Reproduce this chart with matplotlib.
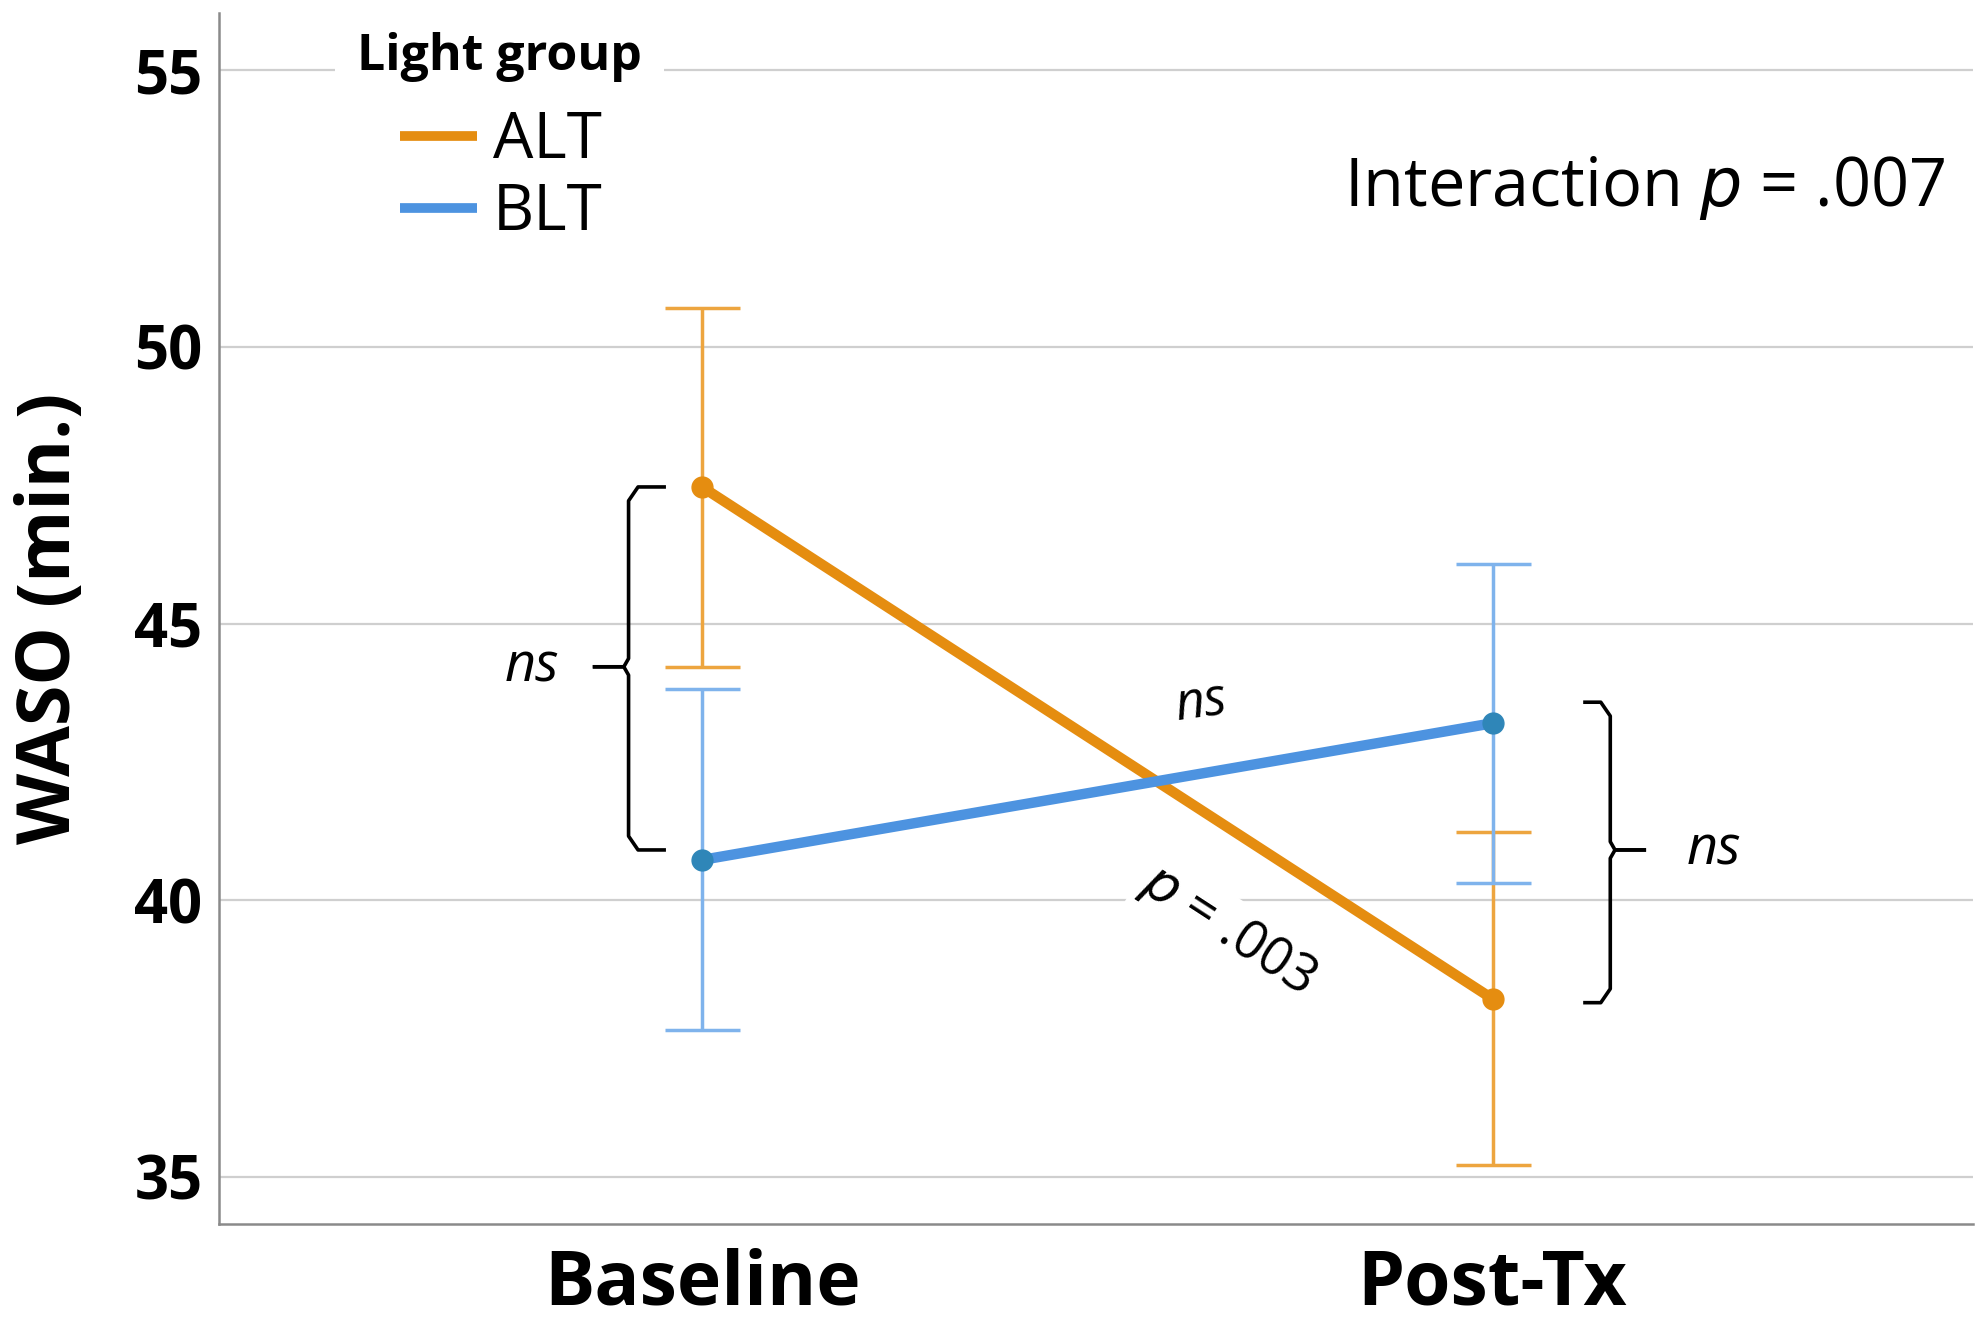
import numpy as np
import matplotlib
matplotlib.use("Agg")
import matplotlib.pyplot as plt

plt.rcParams['font.family'] = ['Open Sans', 'DejaVu Sans']

# values
timepoints = ["Baseline", "Post-Tx"]
groups = ["ALT", "BLT"]
alt_mean = [47.47, 38.22]
alt_upper = [50.71, 41.23]
alt_lower = [44.22, 35.21]
blt_mean = [40.73, 43.20]
blt_upper = [43.81, 46.07]
blt_lower = [37.65, 40.32]

yticks = [35, 40, 45, 50, 55]

line_cols = {"ALT": "#E58D10", "BLT": "#4D93E0"}
err_cols = {"ALT": "#EDA53F", "BLT": "#7FB3EC"}
mk_cols = {"ALT": "#E58D10", "BLT": "#2F86B8"}

fig = plt.figure(figsize=(19.83, 13.29), dpi=100)
ax = fig.add_axes([0.1105, 0.079, 0.8845, 0.911])

x = np.arange(len(timepoints))
series = {"ALT": (alt_mean, alt_lower, alt_upper), "BLT": (blt_mean, blt_lower, blt_upper)}
for g in groups:
    m, lo, hi = [np.array(v) for v in series[g]]
    ax.errorbar(x, m, yerr=[m - lo, hi - m], fmt='none', ecolor=err_cols[g],
                elinewidth=2.5, capsize=27, capthick=2.5, zorder=3)
for g in groups:
    m = series[g][0]
    ax.plot(x, m, color=line_cols[g], lw=7.5, zorder=4, label=g,
            solid_capstyle='butt')
    ax.plot(x, m, 'o', color=mk_cols[g], ms=15, zorder=5)

ax.set_xlim(-0.611, 1.608)
ax.set_ylim(34.15, 56.03)
ax.set_xticks(x)
ax.set_xticklabels(timepoints, fontsize=54, fontweight='bold')
ax.set_yticks(yticks)
ax.set_yticklabels([str(t) for t in yticks], fontsize=43, fontweight='bold')
ax.tick_params(axis='both', length=0)
ax.tick_params(axis='x', pad=17)
ax.tick_params(axis='y', pad=12)
ax.set_ylabel("WASO (min.)", fontsize=53, fontweight='bold')
ax.yaxis.set_label_coords(-0.075, 0.5)

ax.grid(axis='y', color='#CFCFCF', lw=1.6, zorder=0)
ax.set_axisbelow(True)
for s in ['top', 'right']:
    ax.spines[s].set_visible(False)
for s in ['left', 'bottom']:
    ax.spines[s].set_color('#8A8A8A')
    ax.spines[s].set_linewidth(1.8)

# legend entries, title drawn separately so its gap matches
leg = ax.legend(loc='center left', bbox_to_anchor=(0.074, 0.8646),
                fontsize=46, frameon=True, handlelength=1.2,
                handletextpad=0.25, labelspacing=0.12, borderpad=0.3)
leg.get_frame().set_edgecolor('none')
leg.get_frame().set_facecolor('white')
leg.get_frame().set_alpha(1)
for h in leg.legend_handles:
    h.set_linewidth(7)
ax.text(0.160, 0.9636, "Light group", transform=ax.transAxes, ha='center',
        va='center', fontsize=36, fontweight='bold', zorder=7,
        bbox=dict(facecolor='white', edgecolor='none', pad=16))

ax.text(0.984, 0.856, "Interaction $\\it{p}$ = .007", transform=ax.transAxes,
        ha='right', va='center', fontsize=48)


def brace(xv, xh, xp, ytop, ybot, ymid, r=0.25, dx=0.012):
    # curly bracket with short hooks and a point at ymid
    s = np.sign(xp - xv)
    d = np.sign(ybot - ytop)
    xs = [xh, xv - s * dx, xv, xv, xv + s * dx * 0.5, xp]
    ys = [ytop, ytop, ytop + d * r, ymid - d * r * 0.6, ymid, ymid]
    ax.plot(xs, ys, color='black', lw=2.6, zorder=6, solid_joinstyle='round')
    xs2 = [xp, xv + s * dx * 0.5, xv, xv, xv - s * dx, xh]
    ys2 = [ymid, ymid, ymid + d * r * 0.6, ybot - d * r, ybot, ybot]
    ax.plot(xs2, ys2, color='black', lw=2.6, zorder=6, solid_joinstyle='round')


brace(-0.093, -0.048, -0.136, 47.47, 40.91, 44.22)
brace(1.149, 1.117, 1.192, 43.58, 38.15, 40.91)

ax.text(-0.215, 44.22, "ns", style='italic', fontsize=39, ha='center', va='center')
ax.text(1.28, 40.91, "ns", style='italic', fontsize=39, ha='center', va='center')
ax.text(0.632, 43.55, "ns", style='italic', fontsize=37, ha='center', va='center',
        rotation=8)
ax.text(0.666, 39.45, "$\\it{p}$ = .003", fontsize=38, ha='center', va='center',
        rotation=-33, zorder=2,
        bbox=dict(facecolor='white', edgecolor='none', pad=4))

fig.savefig("out.png", dpi=100)
